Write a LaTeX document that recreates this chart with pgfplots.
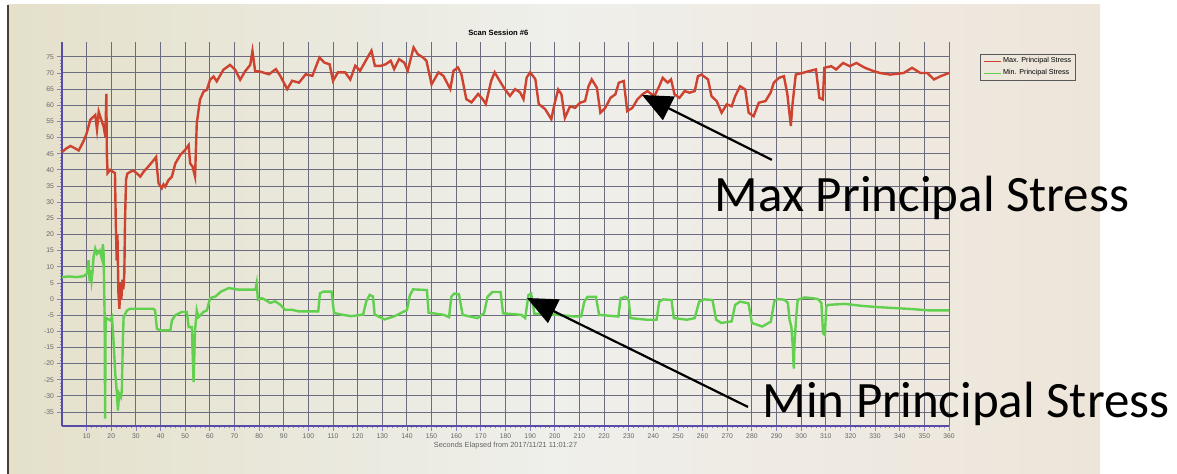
\documentclass[border=0pt]{standalone}
\usepackage{fontspec}
\setmainfont{Liberation Sans}
\newfontfamily\calibri{Carlito}
\usepackage{pgfplots}
\pgfplotsset{compat=1.18}
\usetikzlibrary{arrows.meta}
\definecolor{redline}{RGB}{206,66,48}
\definecolor{greenline}{RGB}{96,208,78}
\definecolor{gridc}{RGB}{108,108,128}
\definecolor{axisc}{RGB}{88,76,168}
\definecolor{ticklab}{RGB}{100,100,100}
\definecolor{bgL}{RGB}{228,224,202}
\definecolor{bgM}{RGB}{239,239,235}
\definecolor{bgR}{RGB}{238,229,217}
\definecolor{edgec}{RGB}{70,64,52}
\begin{document}
\begin{tikzpicture}
\useasboundingbox (0,0) rectangle (588.5pt,237pt);
\fill[white] (0,0) rectangle (588.5pt,237pt);
\shade[left color=bgL, right color=bgR, middle color=bgM] (4pt,0) rectangle (550pt,234.5pt);
\draw[line width=1pt, edgec] (4pt,0) -- (4pt,234.5pt);
\begin{axis}[
 at={(31pt,24pt)}, anchor=south west,
 scale only axis, width=443.5pt, height=192pt,
 xmin=0, xmax=360, ymin=-39.3, ymax=79.6,
 axis x line=bottom, axis y line=left,
 axis line style={-, axisc},
 x axis line style={line width=1pt},
 y axis line style={line width=1.3pt},
 xtick={10,20,...,360}, ytick={-35,-30,...,75},
 minor x tick num=4, minor y tick num=4,
 tick align=outside,
 major tick length=2.5pt, minor tick length=1.2pt,
 tick style={axisc!70, line width=0.4pt},
 grid=major,
 major grid style={gridc, line width=0.5pt},
 ticklabel style={font=\fontsize{3.4}{4}\selectfont, text=ticklab},
 xticklabel style={yshift=2.2pt},
 yticklabel style={xshift=2pt},
 /pgf/number format/assume math mode=true,
 xlabel={Seconds Elapsed from 2017/11/21 11:01:27},
 xlabel style={font=\fontsize{3.7}{4}\selectfont, text=ticklab, yshift=5pt},
 legend style={at={(1.035,0.969)}, anchor=north west, draw=gray!70!black, line width=0.4pt, fill=none,
   font=\fontsize{3.6}{4}\selectfont, inner xsep=1.5pt, inner ysep=1pt, row sep=0.6pt,
   nodes={inner sep=0.6pt}},
 legend cell align=left,
 clip=false,
]
\addlegendimage{legend image code/.code={\draw[draw=redline, line width=0.7pt] (0pt,0pt) -- (8.5pt,0pt);}}
\addlegendentry{Max. Principal Stress}
\addlegendimage{legend image code/.code={\draw[draw=greenline, line width=0.7pt] (0pt,0pt) -- (8.5pt,0pt);}}
\addlegendentry{Min. Principal Stress}
\addplot[forget plot, color=redline, draw=redline, line width=1.2pt] coordinates {
(0,45.5) (1.5,46.5) (3.4,47.4) (5,46.8) (6.8,46) (8.8,49) (10,51.3) (11.5,55.5) (13.5,57) (14.2,52.5)
(14.9,58) (15.5,56.5) (16.9,53.4) (17.6,50.3) (18.0,63.5) (18.2,45) (18.5,39) (19.5,40) (20.5,39.5) (21.5,39)
(21.8,25) (22.2,12) (22.5,20) (22.9,2) (23.3,-3) (23.7,5) (24.1,0) (24.5,6) (24.9,3) (25.3,8)
(25.6,25) (26.0,37) (26.5,38.8) (27.7,39.4) (29,39.8) (30.4,38.9) (31.8,37.9) (33.1,39.4) (35,41) (37.2,43)
(38.2,44) (38.5,41) (39.2,35.8) (40.5,34.3) (41.2,35.5) (41.9,34.8) (43.2,36.8) (44.6,37.9) (46,42) (48,44.6)
(50,46.2) (51.4,47.7) (52,42) (53,41) (54,37.9) (54.7,54.4) (56,61.7) (57.4,64.2) (58.8,64.8) (60.1,67.9)
(61.5,68.9) (62.8,67.4) (65.5,71) (68.2,72.5) (70.3,71) (72.3,67.9) (74.3,70.5) (76.4,72.5) (77.3,76.8) (78.4,70.5)
(80,70.5) (81.4,70.2) (84,69.6) (86.8,71.2) (88.6,69.1) (91.4,65) (93.4,67.6) (96.2,67) (98.9,69.6) (101.6,69.1)
(104.5,74.8) (106.5,73.2) (108.6,72.7) (110,67.6) (112,70.2) (114.9,70.2) (117,68) (119,72.2) (121,70.7) (124,74.8)
(125.6,76.9) (127,72.2) (129.3,72.2) (131.4,72.7) (133.4,73.8) (134.8,71.2) (136.8,74.3) (138.9,73.2) (140.3,70.7) (142.7,77.9)
(144.4,75.8) (146.5,74.8) (147.9,73.8) (150,66.5) (152.8,70.2) (154.8,69.1) (157.6,65) (158.9,70.7) (160.7,71.7) (162.1,69.6)
(164.1,61.9) (166.2,60.9) (168.9,63.5) (170.7,61.9) (172,60.4) (174.2,67.6) (175.6,70.2) (177.6,67.6) (179.7,65) (181.8,62.9)
(183.9,65) (185.9,64) (187.3,61.9) (188.6,68.6) (190,70.2) (192.1,68.1) (193.5,60.4) (196.1,58.8) (198.6,55.7) (200,60.8)
(201.4,64.9) (202.7,63.4) (204.1,56.1) (206.2,59.7) (208.2,59.2) (210.3,60.8) (212.3,61.3) (213.7,65.9) (215,68) (217.1,65.4)
(218.5,57.7) (220.5,59.2) (222.6,62.3) (224.6,63.4) (226,67) (228,67.5) (229.4,58.2) (231.5,59.2) (233.5,61.8) (235.6,63.4)
(237.6,64.4) (240.4,62.8) (242.4,65.9) (243.8,68.5) (245.8,67) (247.2,68) (248.6,63.4) (250.6,62.3) (252.7,64.4) (254.7,63.9)
(256.8,64.4) (258.1,69) (259.5,69.5) (262.2,68) (263.6,62.8) (265.7,61.3) (267.7,57.7) (269.8,60.3) (271.8,59.7) (273.2,62.8)
(275.2,65.9) (277.3,64.9) (278.7,57.7) (280.7,56.6) (282.8,60.8) (285.5,61.3) (287.6,63.9) (288.9,67) (291,68.5) (293,69)
(294.4,63.4) (295.8,53.6) (296.4,59.7) (297.8,69.5) (300.5,70) (303.3,70.6) (306,71.1) (307.4,62.3) (308.8,61.8) (309.4,71.6)
(312.2,72.1) (314.2,71.1) (317,73.1) (319.7,72.1) (322.4,73.1) (325.9,71.6) (329.3,70.6) (332,70) (336.1,69.5) (341.6,70)
(345,71.6) (348.4,70) (351.2,70) (353.9,68) (356.6,69) (360,70)
};
\addplot[forget plot, color=greenline, draw=greenline, line width=1.2pt] coordinates {
(0,6.8) (3,7) (6,6.8) (8.8,7.1) (10.1,7.9) (10.8,12) (11.2,5.5) (11.6,9) (12.0,5.8) (12.4,8.5)
(12.8,13) (13.5,15.6) (14.2,14) (15.3,15) (16.2,12.5) (16.6,17) (16.9,14) (17.3,-5.6) (17.5,-37) (17.7,-6)
(18.2,-6) (19.6,-6.6) (20.3,-5.6) (20.9,-12.8) (21.6,-23) (22.3,-29.3) (22.7,-34.5) (23.2,-29.3) (23.9,-30.4) (24.3,-28.3)
(24.7,-12.8) (25,-5.6) (26.4,-3.5) (27.7,-3) (37,-3) (37.8,-3.5) (38.5,-9.2) (40,-9.7) (44,-9.7) (44.6,-6.6)
(46,-5) (48.6,-4) (50.7,-4) (51.4,-8.7) (52.7,-8.7) (53.4,-25.7) (54,-9.7) (54.7,-3.5) (55.4,-5.6) (57.4,-4)
(58.8,-3.5) (60.1,0.3) (62.3,0.8) (64.5,2.3) (67.7,3.4) (71.8,2.9) (78.5,2.9) (79,4.9) (79.5,-0.2) (81,0.3)
(82.4,-0.2) (84.5,-1.2) (86.5,-0.7) (88.5,-1.7) (90.5,-3.3) (93.2,-3.3) (96,-3.8) (104,-3.8) (104.7,1.8) (106,2.3)
(109.4,2.3) (110.4,-4.3) (113.4,-4.8) (117.4,-5.3) (122.2,-4.8) (123.5,-0.7) (124.9,1.3) (126.2,0.8) (126.9,-4.8) (130.9,-6.3)
(135,-5.3) (140,-3.4) (141.2,1.2) (142.5,3) (148.1,2.8) (148.8,-4.2) (155,-4.9) (157.1,-5.6) (158,0.7) (159.2,1.7)
(161.1,1.5) (162.6,-4.9) (168.6,-5.9) (171.3,-4.4) (172.7,0.7) (174.7,2.2) (178,2.2) (179,-4.4) (186.5,-4.9) (188,-5.9)
(189.3,1.2) (190.4,1.7) (191.7,-4.5) (201.4,-4.9) (208.1,-5.4) (210.7,-5.4) (212,-0.8) (213.3,0.7) (216.7,0.7) (218,-4.9)
(225.8,-5.4) (226.7,0.2) (228.7,0.7) (230,-0.3) (230.7,-5.9) (237.3,-6.4) (241.3,-6.4) (242.4,-0.8) (244,-0.1) (247.4,-0.3)
(248.3,-5.9) (253.6,-6.4) (256.8,-5.9) (258.6,-0.8) (260.7,-0.1) (264,-0.3) (265.5,-6.4) (267.6,-7.4) (271.8,-6.9) (273.2,-1.8)
(275.2,-0.8) (278.6,-1.3) (280,-7.4) (284.2,-8.5) (287.7,-7) (289.1,-0.7) (290.5,0) (293.2,-0.2) (294.6,-1.2) (295.3,-6.5)
(296,-8.5) (296.6,-14.8) (297,-21.5) (297.3,-13.8) (298,-5.4) (298.6,-0.2) (301.4,0.5) (304.1,0.3) (306.8,0) (308.2,-1.2)
(308.9,-10.6) (309.6,-11.1) (310.2,-2.3) (310.9,-1.8) (317.7,-1.5) (324.5,-2.1) (331.3,-2.5) (338.1,-2.8) (345,-3.1) (351.8,-3.5)
(360,-3.5)
};
\node[font=\bfseries\fontsize{3.8}{4}\selectfont, inner sep=0pt] at (axis description cs:0.492,1) [yshift=4.5pt] {Scan Session \#6};
\draw[-{Triangle[length=15pt,width=13pt]}, line width=1.1pt] (axis cs:288.1,43.1) -- (axis cs:235.4,63.2);
\draw[-{Triangle[length=15pt,width=13pt]}, line width=1.1pt] (axis cs:278.4,-33.4) -- (axis cs:188.7,0.33);
\node[anchor=base west, font=\calibri\fontsize{25.5}{30}\selectfont, inner sep=0pt] at (axis cs:264.8,26.96) {Max Principal Stress};
\node[anchor=base west, font=\calibri\fontsize{25.5}{30}\selectfont, inner sep=0pt] at (axis cs:284.2,-36.8) {Min Principal Stress};
\end{axis}
\end{tikzpicture}
\end{document}
